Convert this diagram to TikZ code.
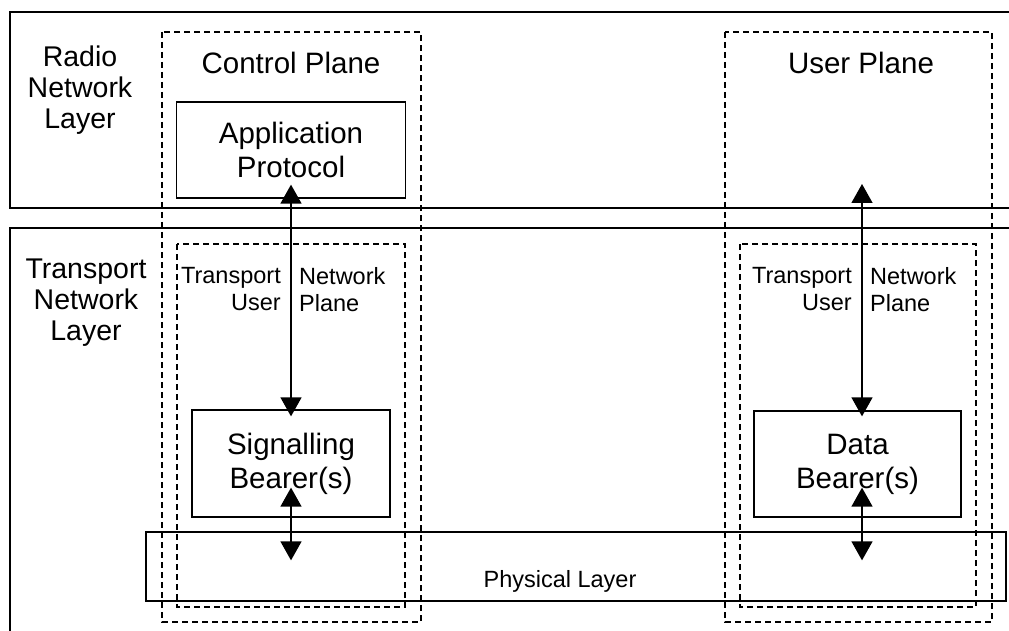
\documentclass[tikz,border=0pt]{standalone}
\usepackage{fontspec}
\setmainfont{Liberation Sans}
\usetikzlibrary{arrows.meta,calc}

\begin{document}
\begin{tikzpicture}[x=1pt,y=-1pt,
    big/.style={font=\fontsize{29.5}{34}\selectfont},
    layerlabel/.style={font=\fontsize{28.5}{31}\selectfont,align=center},
    small/.style={font=\fontsize{23.5}{27}\selectfont,inner sep=0pt},
    layerbox/.style={line width=2pt},
    planebox/.style={line width=1.3pt,dash pattern=on 6pt off 4pt},
    blockbox/.style={draw,line width=1.3pt,inner sep=0pt,align=center,big},
    biarrow/.style={line width=1.4pt,{Triangle[width=21pt,length=19pt]}-{Triangle[width=21pt,length=19pt]}}]
            \clip (0,0) rectangle (1009,631);
            \draw[layerbox] (1030,12) rectangle (10,208);
            \draw[layerbox] (1030,228) rectangle (10,660);
            \node[layerlabel] (rnl) at (80,90) {Radio\\Network\\Layer};
            \node[layerlabel] (tnl) at (86,303) {Transport\\Network\\Layer};
            \foreach \xa/\xb/\xc/\xd in {162/421/177/405,725/992/740/976}{
                \draw[planebox] (\xa,32) rectangle (\xb,622);
                \draw[planebox] (\xc,244) rectangle (\xd,607);
            }
            \node[big,anchor=base] (cp) at (291,74) {Control Plane};
            \node[big,anchor=base] (up) at (861,74) {User Plane};
            \node[blockbox,minimum width=229pt,minimum height=96pt] (app) at (291,150) {Application\\Protocol};
            \node[blockbox,minimum width=198pt,minimum height=107pt] (sig) at (291,463.5) {Signalling\\Bearer(s)};
            \node[blockbox,minimum width=207pt,minimum height=106pt] (data) at (857.5,464) {Data\\Bearer(s)};
            \node[draw,line width=1.3pt,inner sep=0pt,minimum width=860pt,minimum height=69pt] (phy) at (576,566.5) {};
            \node[small,anchor=base] (phl) at (560,587) {Physical Layer};
            \foreach \ax [count=\i] in {291,862}{
                \node[small,align=right,anchor=north east] (tu-\i) at (\ax-10,267) {Transport\\User};
                \node[small,align=left,anchor=north west] (np-\i) at (\ax+8,267) {Network\\Plane};
            }
            \coordinate (utop) at (862,184);
            \draw[biarrow] ([yshift=14pt]app.south) -- ([yshift=-7pt]sig.north);
            \draw[biarrow] (utop) -- ($(utop |- data.north)+(0,6)$);
            \draw[biarrow] ([yshift=30pt]sig.south) -- ($(sig.south |- phy.north)+(0,29)$);
            \draw[biarrow] ($(utop |- data.south)+(0,-30)$) -- ($(utop |- phy.north)+(0,29)$);
        \end{tikzpicture}
\end{document}
